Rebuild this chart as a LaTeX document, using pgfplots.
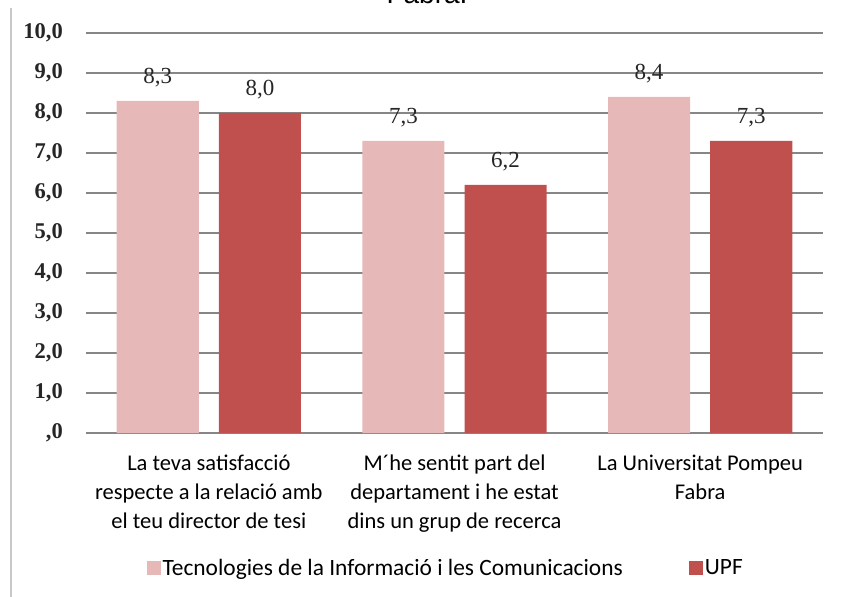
\documentclass[border=0pt]{standalone}
\usepackage{fontspec}
\setmainfont{Carlito}
\newfontfamily\numfont{Liberation Serif}
\newfontfamily\titlefont{Liberation Sans}
\usepackage{pgfplots}
\pgfplotsset{compat=1.18}
\definecolor{tic}{HTML}{E6B9B8}
\definecolor{upf}{HTML}{C0504D}
\definecolor{gridc}{HTML}{868686}
\definecolor{framec}{HTML}{C8C8C8}
\begin{document}
\begin{tikzpicture}
\useasboundingbox (-86pt,-164pt) rectangle (755pt,433pt);
\draw[framec, line width=1.5pt] (-75pt,425pt) -- (-75pt,-170pt);
\begin{axis}[
  at={(0pt,0pt)}, anchor=south west,
  scale only axis, width=737pt, height=400pt,
  xmin=-0.5, xmax=2.5, ymin=0, ymax=10,
  ybar, bar width=0.334,
  axis line style={draw=none},
  major tick length=0pt,
  ymajorgrids, grid style={gridc, line width=1.3pt},
  ytick={0,1,2,3,4,5,6,7,8,9,10},
  yticklabels={{,0},{1,0},{2,0},{3,0},{4,0},{5,0},{6,0},{7,0},{8,0},{9,0},{10,0}},
  yticklabel style={font=\numfont\bfseries\fontsize{22.5}{22.5}\selectfont, anchor=east, inner sep=0pt, xshift=-23pt, text=black!85},
  xtick={0,1,2},
  xticklabels={{La teva satisfacció\\respecte a la relació amb\\el teu director de tesi},{M´he sentit part del\\departament i he estat\\dins un grup de recerca},{La Universitat Pompeu\\Fabra}},
  xticklabel style={align=center, font=\fontsize{22.5}{29}\selectfont, anchor=north, inner sep=0pt, yshift=-22pt},
  nodes near coords,
  nodes near coords style={font=\numfont\fontsize{23}{23}\selectfont, anchor=center, yshift=23pt, text=black!85},
  /pgf/number format/.cd, fixed, fixed zerofill, precision=1, use comma, assume math mode=true, /pgfplots/.cd,
  legend columns=2,
  legend style={font=\fontsize{23.4}{23.4}\selectfont, draw=none, fill=none, at={(0.488,-0.3375)}, anchor=center, /tikz/every even column/.append style={column sep=64pt}},
  legend image code/.code={\fill[#1] (0pt,-7pt) rectangle (14pt,7pt);},
]
\addplot[fill=tic, draw=none, bar shift=-0.208] coordinates {(0,8.3) (1,7.3) (2,8.4)};
\addplot[fill=upf, draw=none, bar shift=0.208] coordinates {(0,8.0) (1,6.2) (2,7.3)};
\legend{Tecnologies de la Informació i les Comunicacions, UPF}
\end{axis}
\node[font=\titlefont\fontsize{28}{28}\selectfont, anchor=base] at (341pt,429pt) {Fabra.};
\end{tikzpicture}
\end{document}
